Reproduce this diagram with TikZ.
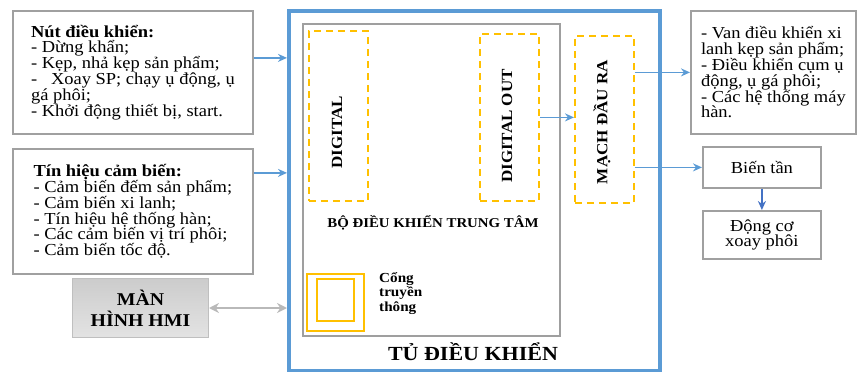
\documentclass[tikz,border=0pt]{standalone}
\usepackage{fontspec}
\setmainfont[FakeStretch=1.1]{Liberation Serif}
\usepackage{xcolor}
\usetikzlibrary{arrows.meta,positioning,calc}
\definecolor{cabblue}{HTML}{5B9BD5}
\definecolor{darkblue}{HTML}{4472C4}
\definecolor{portorange}{HTML}{FFC000}
\definecolor{boxgray}{HTML}{A0A0A0}

\begin{document}
\begin{tikzpicture}[
    x=1pt, y=-1pt,
    gbox/.style={rectangle, draw=boxgray, line width=1.8pt, anchor=north west, align=left, font=\fontsize{16.8}{15.8}\selectfont},
    smallbox/.style={rectangle, draw=boxgray, line width=1.8pt, anchor=north west, align=center, minimum width=118pt, font=\fontsize{16.8}{15.8}\selectfont},
    dashbox/.style={rectangle, draw=portorange, line width=1.8pt, dash pattern=on 7pt off 5pt, anchor=north west, minimum width=59pt},
    vlabel/.style={rotate=90, font=\bfseries\fontsize{15.5}{16}\selectfont},
    arrow/.style={-{Stealth[length=9pt,width=8pt]}, line width=1.6pt, color=cabblue},
    darrow/.style={{Stealth[length=10pt,width=10pt]}-{Stealth[length=10pt,width=10pt]}, line width=2.4pt, color=gray!55}
]
    \useasboundingbox (0,0) rectangle (862,372);

    % inputs
    \node[gbox, minimum width=240pt, minimum height=123pt, inner xsep=11pt] (btn) at (12,10)
        {\textbf{Nút điều khiển:}\\- Dừng khẩn;\\- Kẹp, nhả kẹp sản phẩm;\\-~~ Xoay SP; chạy ụ động, ụ\\gá phôi;\\- Khởi động thiết bị, start.};
    \node[gbox, minimum width=240pt, minimum height=125pt, inner xsep=11pt] (sensor) at (12,148)
        {\textbf{Tín hiệu cảm biến:}\\- Cảm biến đếm sản phẩm;\\- Cảm biến xi lanh;\\- Tín hiệu hệ thống hàn;\\- Các cảm biến vị trí phôi;\\- Cảm biến tốc độ.};
    \node[rectangle, draw=gray!50, line width=1pt, top color=gray!40, bottom color=gray!22, anchor=north west,
          minimum width=136pt, minimum height=59pt, align=center, font=\bfseries\fontsize{18}{21}\selectfont] (hmi) at (72,278)
        {MÀN\\HÌNH HMI};

    % control cabinet
    \node[rectangle, draw=cabblue, line width=3.5pt, anchor=north west, minimum width=371pt, minimum height=360pt] (cabinet) at (287,9) {};
    \node[rectangle, draw=gray!75, line width=1.5pt, anchor=north west, minimum width=257pt, minimum height=312pt] (ctrl) at (302,23) {};
    \node[dashbox, minimum height=170pt] (din) at (308,30) {};
    \node[dashbox, minimum height=167pt] (dout) at (479,33) {};
    \node[dashbox, minimum height=167pt] (outcirc) at (574,35) {};
    \node[vlabel] (dinlabel) at (337,132) {DIGITAL};
    \node[vlabel] (doutlabel) at (507,126) {DIGITAL OUT};
    \node[vlabel] (outlabel) at (602,122) {MẠCH ĐẦU RA};
    \node[font=\bfseries\fontsize{13.5}{14}\selectfont] (ctrllabel) at (433,223) {BỘ ĐIỀU KHIỂN TRUNG TÂM};
    \node[rectangle, draw=portorange, line width=1.8pt, anchor=north west, minimum width=57pt, minimum height=57pt] (port) at (306,273) {};
    \node[rectangle, draw=portorange, line width=1.8pt, anchor=north west, minimum width=37pt, minimum height=42pt] (portin) at (316,278) {};
    \node[anchor=west, align=left, inner sep=0pt, font=\bfseries\fontsize{13.8}{14.5}\selectfont] (portlabel) at (379,293) {Cổng\\truyền\\thông};
    \node[font=\bfseries\fontsize{20}{20}\selectfont] (cablabel) at (473,352) {TỦ ĐIỀU KHIỂN};

    % outputs
    \node[gbox, minimum width=165pt, minimum height=123pt, inner xsep=9pt] (actuator) at (690,10)
        {- Van điều khiển xi\\lanh kẹp sản phẩm;\\- Điều khiển cụm ụ\\động, ụ gá phôi;\\- Các hệ thống máy\\hàn.};
    \node[smallbox, minimum height=41pt] (inverter) at (702,146) {Biến tần};
    \node[smallbox, minimum height=48pt] (motor) at (702,210) {Động cơ\\xoay phôi};

    \coordinate (btnout) at ([yshift=14.5pt]btn.east);
    \coordinate (sensorout) at ([yshift=38.5pt]sensor.east);
    \draw[arrow] (btnout) -- (btnout -| cabinet.west);
    \draw[arrow] (sensorout) -- (sensorout -| cabinet.west);
    \draw[darrow] (hmi.east) -- (hmi.east -| cabinet.west);
    \draw[arrow] (dout.east) -- (dout.east -| outcirc.west);
    \draw[arrow] (outcirc.east |- actuator.west) -- (actuator.west);
    \draw[arrow] (outcirc.east |- inverter.west) -- (inverter.west);
    \draw[arrow, color=darkblue, line width=2pt] (inverter.south) -- (motor.north);
\end{tikzpicture}
\end{document}
